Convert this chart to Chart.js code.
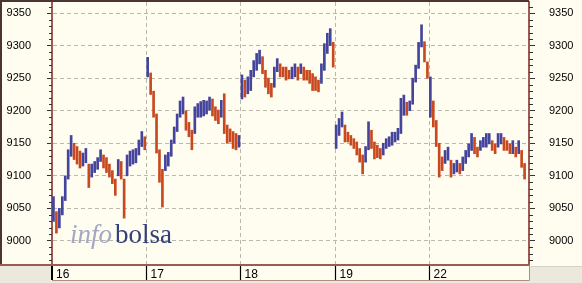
<!DOCTYPE html>
<html>
<head>
<meta charset="utf-8">
<script src="https://cdn.jsdelivr.net/npm/chart.js@4.4.1/dist/chart.umd.min.js"></script>
<style>
html, body { margin: 0; padding: 0; background: #fffcf0; }
#wrap { width: 582px; height: 283px; }
</style>
</head>
<body>
<div id="wrap"><canvas id="grafica" width="582" height="283"></canvas></div>
<script>
// sesiones y tramos intradía (mínimo / máximo de cada tramo)
const dias = ['16', '17', '18', '19', '22'];
const tramosPorDia = 32;
const totalTramos = 162;

const min16 = [9030, 9012, 9020, 9040, 9062, 9095, 9130, 9125, 9118, 9112, 9115, 9120, 9082, 9098, 9105, 9110,
               9122, 9112, 9105, 9098, 9088, 9070, 9100, 9095, 9035, 9100, 9115, 9118, 9120, 9132, 9145, 9140];
const max16 = [9068, 9045, 9050, 9068, 9100, 9140, 9162, 9150, 9145, 9138, 9135, 9142, 9118, 9118, 9122, 9128,
               9140, 9132, 9128, 9118, 9108, 9095, 9125, 9122, 9095, 9132, 9138, 9140, 9142, 9155, 9168, 9160];

const min17 = [9252, 9225, 9190, 9135, 9090, 9052, 9108, 9115, 9130, 9150, 9168, 9190, 9195, 9170, 9160, 9140,
               9165, 9190, 9190, 9192, 9195, 9201, 9192, 9185, 9180, 9190, 9165, 9150, 9152, 9142, 9140, 9144];
const max17 = [9282, 9258, 9230, 9195, 9140, 9110, 9132, 9136, 9155, 9175, 9195, 9215, 9221, 9200, 9182, 9170,
               9206, 9211, 9214, 9216, 9215, 9221, 9218, 9206, 9201, 9216, 9226, 9178, 9172, 9168, 9165, 9162];

const min18 = [9218, 9221, 9226, 9231, 9252, 9262, 9272, 9257, 9236, 9226, 9221, 9236, 9260, 9252, 9252, 9247,
               9249, 9249, 9252, 9247, 9257, 9247, 9247, 9242, 9231, 9231, 9229, 9242, 9262, 9288, 9300, 9267];
const max18 = [9255, 9247, 9252, 9262, 9277, 9288, 9293, 9283, 9262, 9250, 9242, 9267, 9280, 9272, 9267, 9267,
               9262, 9267, 9272, 9267, 9272, 9267, 9262, 9262, 9257, 9252, 9247, 9272, 9303, 9319, 9326, 9305];

const min19 = [9142, 9162, 9175, 9152, 9152, 9147, 9142, 9132, 9121, 9103, 9121, 9140, 9142, 9126, 9128, 9126,
               9132, 9142, 9145, 9147, 9152, 9155, 9165, 9193, 9193, 9200, 9210, 9244, 9265, 9298, 9275, 9250];
const max19 = [9178, 9188, 9198, 9178, 9167, 9162, 9157, 9152, 9142, 9132, 9145, 9183, 9170, 9152, 9147, 9142,
               9150, 9157, 9160, 9167, 9167, 9173, 9219, 9224, 9213, 9215, 9250, 9270, 9305, 9332, 9306, 9275];

const min22 = [9190, 9175, 9145, 9098, 9108, 9119, 9124, 9098, 9103, 9106, 9103, 9108, 9119, 9129, 9139, 9134,
               9129, 9139, 9144, 9144, 9149, 9139, 9134, 9144, 9149, 9139, 9139, 9134, 9134, 9129, 9134, 9113, 9095];
const max22 = [9252, 9215, 9185, 9150, 9129, 9139, 9144, 9124, 9119, 9124, 9119, 9129, 9139, 9149, 9165, 9159,
               9144, 9154, 9159, 9165, 9165, 9154, 9149, 9165, 9165, 9159, 9154, 9149, 9154, 9144, 9154, 9139, 9119];

const minimos = [min16, min17, min18, min19, min22];
const maximos = [max16, max17, max18, max19, max22];

const AZUL = '#44449c';
const ROJO = '#c9491f';

const rangos = [];
const colores = [];
minimos.forEach((lista, d) => {
  let previo = null;
  lista.forEach((lo, i) => {
    const hi = maximos[d][i];
    const medio = (lo + hi) / 2;
    rangos.push([lo, hi]);
    colores.push(previo === null || medio >= previo ? AZUL : ROJO);
    previo = medio;
  });
});
while (rangos.length < totalTramos) { rangos.push(null); colores.push(AZUL); }
const etiquetas = rangos.map((_, i) => i);

function limiteDia(chart, d) {
  const x = chart.scales.x;
  const ancho = x.getPixelForValue(1) - x.getPixelForValue(0);
  return x.getPixelForValue(d * tramosPorDia) - ancho / 2;
}

const marco = {
  id: 'marco',
  beforeDraw(chart) {
    const c = chart.ctx, a = chart.chartArea;
    c.save();
    c.fillStyle = '#fffcf0';
    c.fillRect(0, 0, chart.width, chart.height);
    c.fillStyle = '#ebe9dc';
    c.fillRect(0, a.bottom + 1, a.left - 1, chart.height - a.bottom);
    c.fillRect(a.right + 1, a.bottom + 1, chart.width - a.right, chart.height - a.bottom);
    c.fillRect(0, 281, chart.width, 2);
    c.restore();
  },
  beforeDatasetsDraw(chart) {
    const c = chart.ctx, a = chart.chartArea;
    c.save();
    c.strokeStyle = '#bab7ab';
    c.lineWidth = 1;
    c.setLineDash([4, 3]);
    for (let d = 1; d < dias.length; d++) {
      const px = Math.round(limiteDia(chart, d)) + 0.5;
      c.beginPath();
      c.moveTo(px, a.top);
      c.lineTo(px, a.bottom);
      c.stroke();
    }
    c.setLineDash([]);
    // marca de agua
    c.textBaseline = 'alphabetic';
    c.font = 'italic 27px "Liberation Serif"';
    c.fillStyle = '#a3a7c2';
    c.fillText('info', 70, 243);
    const w = c.measureText('info').width;
    c.font = '27px "Liberation Serif"';
    c.fillStyle = '#34407a';
    c.fillText('bolsa', 70 + w + 3, 243);
    c.restore();
  },
  afterDraw(chart) {
    const c = chart.ctx, a = chart.chartArea, y = chart.scales.y;
    c.save();
    // marcas menores
    c.strokeStyle = '#333';
    c.lineWidth = 1;
    for (let v = 8970; v <= 9360; v += 10) {
      if (v % 50 === 0) continue;
      const py = Math.round(y.getPixelForValue(v)) + 0.5;
      c.beginPath();
      c.moveTo(a.left - 3, py); c.lineTo(a.left, py);
      c.moveTo(a.right, py); c.lineTo(a.right + 4, py);
      c.stroke();
    }
    // bordes exteriores
    c.strokeStyle = '#4a3434';
    c.lineWidth = 2;
    c.beginPath();
    c.moveTo(1, a.bottom); c.lineTo(1, 1); c.lineTo(a.right, 1);
    c.stroke();
    c.strokeStyle = '#9c5a55';
    c.beginPath();
    c.moveTo(0, a.bottom); c.lineTo(a.right + 1, a.bottom);
    c.stroke();
    // franja de fechas
    c.lineWidth = 1;
    c.strokeStyle = '#b58a84';
    c.beginPath();
    c.moveTo(a.left, 280.5); c.lineTo(a.right + 0.5, 280.5); c.lineTo(a.right + 0.5, a.bottom);
    c.stroke();
    c.strokeStyle = '#d6d3c6';
    c.beginPath();
    c.moveTo(a.right + 2, a.bottom + 1.5); c.lineTo(chart.width, a.bottom + 1.5);
    c.stroke();
    c.fillStyle = '#000';
    c.font = '12px "Liberation Sans"';
    c.textBaseline = 'alphabetic';
    dias.forEach((dia, d) => {
      const px = d === 0 ? a.left : Math.round(limiteDia(chart, d)) + 0.5;
      c.strokeStyle = '#000';
      c.lineWidth = d === 0 ? 2 : 1.2;
      c.beginPath();
      c.moveTo(px, a.bottom + 1); c.lineTo(px, 280);
      c.stroke();
      c.fillText(dia, px + 4, 278);
    });
    c.restore();
  }
};

const ctx = document.getElementById('grafica').getContext('2d');
new Chart(ctx, {
  type: 'bar',
  data: {
    labels: etiquetas,
    datasets: [{
      data: rangos,
      backgroundColor: colores,
      borderWidth: 0,
      borderSkipped: false,
      barThickness: 2
    }]
  },
  options: {
    responsive: false,
    animation: false,
    events: [],
    layout: { padding: { top: 2, bottom: 18, left: 0, right: 0 } },
    plugins: { legend: { display: false }, tooltip: { enabled: false } },
    scales: {
      x: { display: false, offset: true },
      y: {
        position: 'left',
        min: 8963, max: 9367,
        ticks: { stepSize: 50, includeBounds: false, color: '#000', padding: 16,
                 font: { family: 'Liberation Sans', size: 11 }, callback: v => String(v) },
        grid: { color: '#bab7ab', lineWidth: 1, tickLength: 5, tickColor: '#333' },
        border: { display: true, color: '#9c5a55', width: 2, dash: [4, 3] },
        afterFit: s => { s.width = 52; s.paddingTop = 0; s.paddingBottom = 0; }
      },
      y2: {
        position: 'right',
        min: 8963, max: 9367,
        ticks: { stepSize: 50, includeBounds: false, color: '#000', padding: 14,
                 font: { family: 'Liberation Sans', size: 11 }, callback: v => String(v) },
        grid: { drawOnChartArea: false, tickLength: 6, tickColor: '#333' },
        border: { display: true, color: '#9c5a55', width: 2 },
        afterFit: s => { s.width = 53; s.paddingTop = 0; s.paddingBottom = 0; }
      }
    }
  },
  plugins: [marco]
});
</script>
</body>
</html>
